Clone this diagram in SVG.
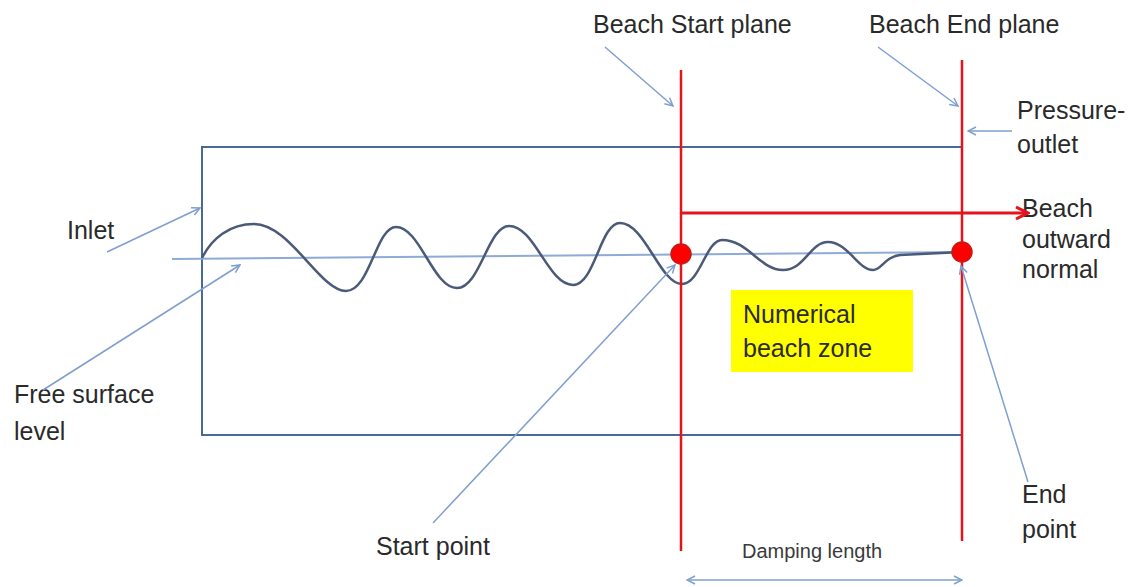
<svg xmlns="http://www.w3.org/2000/svg" width="1132" height="587" viewBox="0 0 1132 587">
<style>
.lbl{font-family:"Liberation Sans",Arial,sans-serif;font-size:25px;fill:#2a2a2a}
.small{font-family:"Liberation Sans",Arial,sans-serif;font-size:20px;fill:#3a3a3a}
.lead{stroke:#7f9fcf;stroke-width:1.5;fill:none}
.box{stroke:#4a6a96;stroke-width:2;fill:none}
.plane{stroke:#e3141c;stroke-width:2.5;fill:none}
.dot{fill:#ff0000;stroke:#c21a1a;stroke-width:1.5}
</style>
<defs>
<marker id="ah" viewBox="0 0 10 10" refX="9" refY="5" markerWidth="10" markerHeight="10" markerUnits="userSpaceOnUse" orient="auto-start-reverse">
<path d="M1,1 L9,5 L1,9" fill="none" stroke="#7f9fcf" stroke-width="1.5"/>
</marker>
<marker id="rh" viewBox="0 0 16 16" refX="14" refY="8" markerWidth="16" markerHeight="16" markerUnits="userSpaceOnUse" orient="auto">
<path d="M2,2 L14,8 L2,14" fill="none" stroke="#e3141c" stroke-width="3"/>
</marker>
</defs>
<rect width="1132" height="587" fill="#ffffff"/>

<g id="tank">
<path class="box" d="M962,147 L202,147 L202,435 L962,435"/>
</g>

<g id="free-surface">
<line x1="172" y1="259" x2="962" y2="252" stroke="#8eaad6" stroke-width="2"/>
</g>

<g id="wave">
<path d="M202,258 C212,238 230,224 254,224 C290,224 320,291 346,291 C370,291 376,227 396,227 C420,227 433,288 457,288 C480,288 488,226 509,226 C535,226 548,285 573,285 C595,285 600,223 620,223 C645,223 660,284 682,284 C700,284 706,240 722,240 C748,240 760,270 783,270 C805,270 810,242 828,242 C848,242 858,270 873,270 C882,270 884,257 900,255 L962,252" fill="none" stroke="#4a5a78" stroke-width="2.5"/>
</g>

<g id="numerical-beach-zone">
<rect x="731" y="290" width="182" height="82" fill="#ffff00"/>
<text class="lbl" x="743" y="323">Numerical</text>
<text class="lbl" x="743" y="357">beach zone</text>
</g>

<g id="beach-start-plane">
<line class="plane" x1="681" y1="70" x2="681" y2="551"/>
<text class="lbl" x="593" y="33" font-size="25.5">Beach Start plane</text>
</g>

<g id="beach-end-plane">
<line class="plane" x1="962" y1="60" x2="962" y2="541"/>
<text class="lbl" x="869" y="33" font-size="25.5">Beach End plane</text>
</g>

<g id="start-point">
<circle class="dot" cx="681" cy="254" r="10"/>
<text class="lbl" x="376" y="555">Start point</text>
</g>

<g id="end-point">
<circle class="dot" cx="962" cy="252" r="10"/>
<text class="lbl" x="1022" y="503">End</text>
<text class="lbl" x="1022" y="538">point</text>
</g>

<g id="inlet-label">
<text class="lbl" x="67" y="239">Inlet</text>
</g>

<g id="free-surface-label">
<text class="lbl" x="14" y="403">Free surface</text>
<text class="lbl" x="14" y="440">level</text>
</g>

<g id="pressure-outlet-label">
<text class="lbl" x="1017" y="119">Pressure-</text>
<text class="lbl" x="1017" y="153">outlet</text>
</g>

<g id="beach-outward-normal-label">
<text class="lbl" x="1022" y="217" font-size="24">Beach</text>
<text class="lbl" x="1022" y="248" font-size="24">outward</text>
<text class="lbl" x="1022" y="278" font-size="24">normal</text>
</g>

<g id="damping-length-label">
<text class="small" x="742" y="558">Damping length</text>
</g>

<g id="connectors">
<line class="lead" x1="605" y1="47" x2="673" y2="106" marker-end="url(#ah)"/>
<line class="lead" x1="878" y1="47" x2="958" y2="106" marker-end="url(#ah)"/>
<line class="lead" x1="1012" y1="131" x2="968" y2="131" marker-end="url(#ah)"/>
<line class="lead" x1="107" y1="252" x2="200" y2="208" marker-end="url(#ah)"/>
<line class="lead" x1="43" y1="390" x2="240" y2="265" marker-end="url(#ah)"/>
<line class="lead" x1="433" y1="523" x2="675" y2="265" marker-end="url(#ah)"/>
<line class="lead" x1="1028" y1="482" x2="961" y2="266" marker-end="url(#ah)"/>
<line class="lead" x1="687" y1="580" x2="962" y2="580" marker-start="url(#ah)" marker-end="url(#ah)"/>
<line x1="681" y1="213" x2="1028" y2="213" stroke="#e3141c" stroke-width="3" marker-end="url(#rh)"/>
</g>
</svg>
